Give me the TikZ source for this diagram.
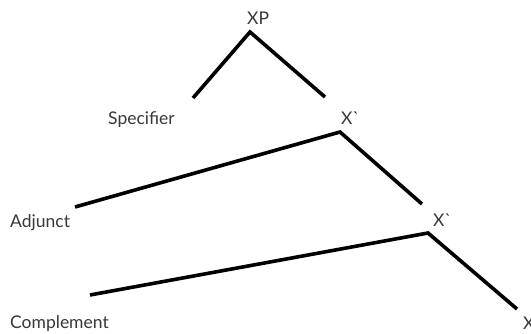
\documentclass[tikz,border=0pt]{standalone}
\usepackage{fontspec}
\newfontfamily\lab{Lato}
\begin{document}
\begin{tikzpicture}[x=1pt,y=-1pt,
  lbl/.style={inner sep=0pt,anchor=base west,font=\lab\fontsize{17.5}{20}\selectfont,text=black!78},
  branch/.style={line width=3.6pt,black}]
\useasboundingbox (0,0) rectangle (531,334);
\fill[white] (0,0) rectangle (531,334);
% labels
\node[lbl] (xp) at (247,25) {XP};
\node[lbl] (spec) at (108,125) {Specifier};
\node[lbl] (xbar1) at (341,125) {X`};
\node[lbl] (adj) at (10,228) {Adjunct};
\node[lbl] (xbar2) at (433,227) {X`};
\node[lbl] (comp) at (10,328) {Complement};
\node[lbl] (x) at (523,330) {X};
% branch points
\coordinate (a0) at (250,32);
\coordinate (l0) at (193,98);
\coordinate (r0) at (325,97);
\coordinate (a1) at (340,132);
\coordinate (l1) at (75,207);
\coordinate (r1) at (422,204);
\coordinate (a2) at (428,233);
\coordinate (l2) at (90,295);
\coordinate (r2) at (517,309);
\draw[branch] (l0) -- (a0) -- (r0);
\draw[branch] (l1) -- (a1) -- (r1);
\draw[branch] (l2) -- (a2) -- (r2);
\end{tikzpicture}
\end{document}
